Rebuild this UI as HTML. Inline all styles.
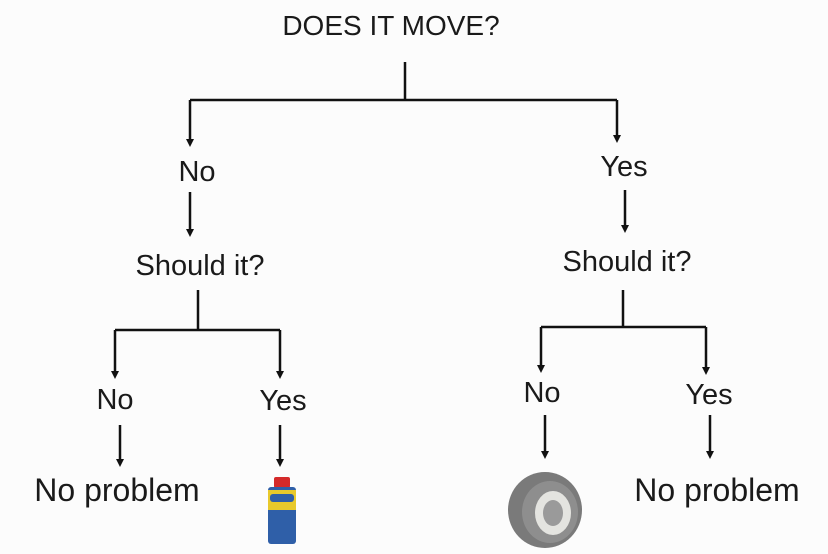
<!DOCTYPE html>
<html><head><style>
html,body{margin:0;padding:0;background:#fcfcfc;}
#c{position:relative;width:828px;height:554px;overflow:hidden;font-family:"Liberation Sans",sans-serif;color:#1a1a1a;}
.t{position:absolute;font-size:29px;transform:translateX(-50%);white-space:nowrap;line-height:1;}
.u{font-size:28px;}
.p{font-size:32px;}
</style></head><body><div id="c">
<svg width="828" height="554" style="position:absolute;left:0;top:0">
<g stroke="#111" stroke-width="2.5" fill="none">
<path d="M405,62 V100 M190,100 H617"/>
<path d="M190,100 V140"/>
<path d="M617,100 V136"/>
<path d="M190,192 V230"/>
<path d="M625,190 V226"/>
<path d="M198,290 V330 M115,330 H280 M623,290 V327 M541,327 H706"/>
<path d="M115,330 V372"/>
<path d="M280,330 V372"/>
<path d="M541,327 V366"/>
<path d="M706,327 V368"/>
<path d="M120,425 V460"/>
<path d="M280,425 V460"/>
<path d="M545,415 V452"/>
<path d="M710,415 V452"/>
</g>
<g fill="#111">
<path d="M186,139 h8 l-4,8z"/>
<path d="M613,135 h8 l-4,8z"/>
<path d="M186,229 h8 l-4,8z"/>
<path d="M621,225 h8 l-4,8z"/>
<path d="M111,371 h8 l-4,8z"/>
<path d="M276,371 h8 l-4,8z"/>
<path d="M537,365 h8 l-4,8z"/>
<path d="M702,367 h8 l-4,8z"/>
<path d="M116,459 h8 l-4,8z"/>
<path d="M276,459 h8 l-4,8z"/>
<path d="M541,451 h8 l-4,8z"/>
<path d="M706,451 h8 l-4,8z"/>
</g>
<rect x="274" y="477" width="16" height="11" fill="#d42a2a" rx="2"/>
<rect x="268" y="487" width="28" height="57" fill="#2f5fa8" rx="3"/>
<rect x="268" y="490" width="28" height="20" fill="#e8c92c"/>
<rect x="270" y="494" width="24" height="8" fill="#2f5fa8" rx="3"/>
<ellipse cx="545" cy="510" rx="37" ry="38" fill="#7a7a7a"/>
<ellipse cx="550" cy="512" rx="28" ry="31" fill="#8e8e8e"/>
<ellipse cx="553" cy="513" rx="18" ry="22" fill="#e4e4e0"/>
<ellipse cx="553" cy="513" rx="10" ry="13" fill="#9a9a9a"/>
</svg>
<div class="t u" style="left:391px;top:12px">DOES IT MOVE?</div>
<div class="t" style="left:197px;top:158px">No</div>
<div class="t" style="left:624px;top:153px">Yes</div>
<div class="t" style="left:200px;top:252px">Should it?</div>
<div class="t" style="left:627px;top:248px">Should it?</div>
<div class="t" style="left:115px;top:386px">No</div>
<div class="t" style="left:283px;top:387px">Yes</div>
<div class="t" style="left:542px;top:379px">No</div>
<div class="t" style="left:709px;top:381px">Yes</div>
<div class="t p" style="left:117px;top:474px">No problem</div>
<div class="t p" style="left:717px;top:474px">No problem</div>
</div></body></html>
